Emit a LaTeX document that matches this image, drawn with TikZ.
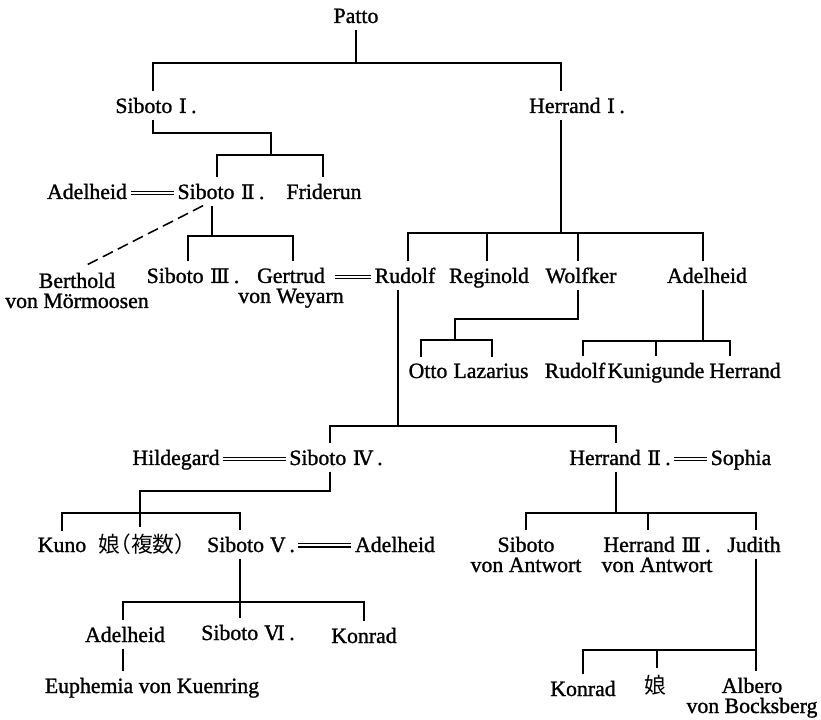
\documentclass[tikz,border=0pt]{standalone}
\usepackage{fontspec}
\setmainfont{Liberation Serif}[FakeBold=1.2]
\newfontfamily\rmn{DejaVu Serif}[FakeBold=1.2, Scale=0.92]
\newfontfamily\cjk{Noto Sans CJK JP}
\newfontfamily\cjkh[RawFeature=+halt]{Noto Sans CJK JP}
\usetikzlibrary{calc}
\newcommand\rn[1]{\hspace{.3em}{\rmn #1}\hspace{.2em}}

\tikzset{
  pers/.style={anchor=base, inner xsep=2pt, inner ysep=4pt, align=center},
  marry/.style={double, line width=0.9pt, double distance=1.5pt},
}

\begin{document}
\begin{tikzpicture}[x=0.025cm, y=-0.025cm, line width=1.1pt,
  every node/.style={font=\fontsize{15.5}{14.3}\selectfont}]
\useasboundingbox (0,0) rectangle (821,720);

%%%%% PERSONS %%%%%
\node[pers] (patto) at (356,23) {Patto};
\node[pers] (sib1) at (156,113) {Siboto\rn{Ⅰ}.};
\node[pers] (her1) at (577,113) {Herrand\rn{Ⅰ}.};

\node[pers] (adl1) at (87,199) {Adelheid};
\node[pers] (sib2) at (221,199) {Siboto\rn{Ⅱ}.};
\node[pers] (frid) at (324,199) {Friderun};

% two-line nodes: base = last line
\node[pers] (bert) at (77,308) {Berthold\\von Mörmoosen};
\node[pers] (sib3) at (193,283) {Siboto\rn{Ⅲ}.};
\node[pers] (gert) at (291,303) {Gertrud\\von Weyarn};
\node[pers] (rud1) at (405,283) {Rudolf};
\node[pers] (regi) at (489,283) {Reginold};
\node[pers] (wolf) at (581,283) {Wolfker};
\node[pers] (adl2) at (707,283) {Adelheid};

\node[pers] (otto) at (428,378) {Otto};
\node[pers] (laza) at (491,378) {Lazarius};
\node[pers] (rud2) at (575,378) {Rudolf};
\node[pers] (kuni) at (656,378) {Kunigunde};
\node[pers] (her0) at (745,378) {Herrand};

\node[pers] (hild) at (176,465) {Hildegard};
\node[pers] (sib4) at (336,465) {Siboto\rn{Ⅳ}.};
\node[pers] (her2) at (620,465) {Herrand\rn{Ⅱ}.};
\node[pers] (soph) at (741,465) {Sophia};

\node[pers] (kuno) at (62,552) {Kuno};
\node[pers] (daus) at (142,552) {\cjkh 娘（複数）};
\node[pers] (sib5) at (251,552) {Siboto\rn{Ⅴ}.};
\node[pers] (adl3) at (395,552) {Adelheid};
\node[pers] (sib0) at (526,572) {Siboto\\von Antwort};
\node[pers] (her3) at (657,572) {Herrand\rn{Ⅲ}.\\von Antwort};
\node[pers] (judi) at (754,552) {Judith};

\node[pers] (adl4) at (125,642) {Adelheid};
\node[pers] (sib6) at (248,640) {Siboto\rn{Ⅵ}.};
\node[pers] (konr) at (364,643) {Konrad};
\node[pers] (euph) at (152,693) {Euphemia von Kuenring};
\node[pers] (kon2) at (583,696) {Konrad};
\node[pers] (daug) at (655,693) {\cjk 娘};
\node[pers] (albe) at (752,713) {Albero\\von Bocksberg};

%%%%% MARRIAGES %%%%%
\draw[marry] ([yshift=4.3pt]adl1.base east) -- ([yshift=4.3pt]sib2.base west);
\coordinate (gm) at ([yshift=4.3pt]rud1.base west);
\path (gm -| gert.east) coordinate (gm2);
\draw[marry] (gm) -- ([xshift=-9pt]gm2);
\draw[marry] ([yshift=4.3pt]hild.base east) -- ([yshift=4.3pt]sib4.base west);
\draw[marry] ([yshift=4.3pt]her2.base east) -- ([yshift=4.3pt]soph.base west);
\draw[marry] ([yshift=4.8pt]sib5.base east) -- ([yshift=4.8pt]adl3.base west);

%%%%% LINES %%%%%
% Patto
\coordinate (pL) at (153,63);
\coordinate (pR) at (561,63);
\draw (patto.south) -- (patto.south |- pL);
\draw (pL |- sib1.north) -- (pL) -- (pR) -- (pR |- her1.north);

% Siboto I
\coordinate (s1a) at (153,133);
\coordinate (s1b) at (271,133);
\coordinate (s1L) at (217,155);
\coordinate (s1R) at (323,155);
\draw (s1a |- sib1.south) -- (s1a) -- (s1b) -- (s1b |- s1L);
\draw (s1L |- sib2.north) -- (s1L) -- (s1R) -- (s1R |- frid.north);

% Siboto II
\coordinate (s2) at (212,236);
\coordinate (s2L) at (188,236);
\coordinate (s2R) at (293,236);
\coordinate (dsh) at (203,0);
\draw (s2 |- sib2.south) -- (s2);
\draw (s2L |- sib3.north) -- (s2L) -- (s2R) -- (s2R |- gert.north);
\draw[dash pattern=on 8pt off 4pt] (dsh |- sib2.south) -- ([xshift=5pt]bert.north);

% Herrand I
\coordinate (h1) at (561,233);
\coordinate (h1L) at (408,233);
\coordinate (h1b) at (487,233);
\coordinate (h1c) at (578,233);
\coordinate (h1R) at (703,233);
\draw (h1 |- her1.south) -- (h1);
\draw (h1L |- rud1.north) -- (h1L) -- (h1R) -- (h1R |- adl2.north);
\draw (h1b) -- (h1b |- regi.north);
\draw (h1c) -- (h1c |- wolf.north);

% Wolfker
\coordinate (wa) at (578,319);
\coordinate (wb) at (455,319);
\coordinate (wL) at (421,340);
\coordinate (wR) at (492,340);
\draw (wa |- wolf.south) -- (wa) -- (wb) -- (wb |- wL);
\draw (wL |- otto.north) -- (wL) -- (wR) -- (wR |- laza.north);

% Adelheid
\coordinate (a2) at (703,341);
\coordinate (a2L) at (583,341);
\coordinate (a2M) at (656,341);
\coordinate (a2R) at (730,341);
\draw (a2 |- adl2.south) -- (a2);
\draw (a2L |- rud2.north) -- (a2L) -- (a2R) -- (a2R |- her0.north);
\draw (a2M) -- (a2M |- kuni.north);

% Rudolf
\coordinate (r1) at (398,426);
\coordinate (r1L) at (330,426);
\coordinate (r1R) at (616,426);
\draw (r1 |- rud1.south) -- (r1);
\draw (r1L |- sib4.north) -- (r1L) -- (r1R) -- (r1R |- her2.north);

% Siboto IV
\coordinate (s4a) at (330,491);
\coordinate (s4b) at (140,491);
\coordinate (s4L) at (62,513);
\coordinate (s4R) at (240,513);
\draw (s4a |- sib4.south) -- (s4a) -- (s4b) -- (s4b |- daus.north);
\draw (s4L |- kuno.north) -- (s4L) -- (s4R) -- (s4R |- sib5.north);

% Siboto V
\coordinate (s5) at (240,602);
\coordinate (s5L) at (123,602);
\coordinate (s5R) at (364,602);
\draw (s5 |- sib5.south) -- (s5 |- sib6.north);
\draw (s5L |- adl4.north) -- (s5L) -- (s5R) -- (s5R |- konr.north);
\draw (s5L |- adl4.south) -- (s5L |- euph.north);

% Herrand II
\coordinate (h2) at (616,513);
\coordinate (h2L) at (526,513);
\coordinate (h2M) at (648,513);
\coordinate (h2R) at (756,513);
\draw (h2 |- her2.south) -- (h2);
\draw (h2L |- sib0.north) -- (h2L) -- (h2R) -- (h2R |- judi.north);
\draw (h2M) -- (h2M |- her3.north);

% Judith
\coordinate (jL) at (583,650);
\coordinate (jM) at (657,650);
\coordinate (jR) at (756,650);
\draw (jR |- judi.south) -- (jR |- albe.north);
\draw (jL |- kon2.north) -- (jL) -- (jR);
\draw (jM) -- (jM |- daug.north);
\end{tikzpicture}
\end{document}
